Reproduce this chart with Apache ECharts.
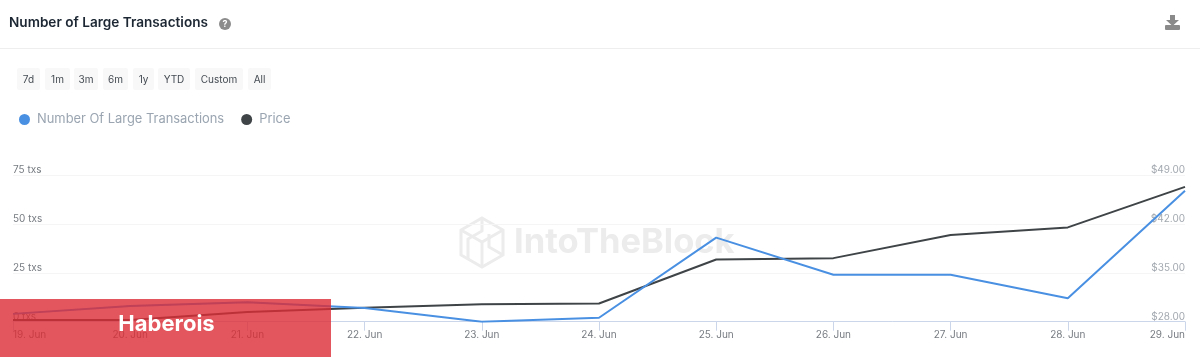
<!DOCTYPE html>
<html>
<head>
<meta charset="utf-8">
<style>
  html, body { margin: 0; padding: 0; background: #fff; }
  #main { width: 1200px; height: 358px; }
</style>
<script src="https://cdn.jsdelivr.net/npm/echarts@6/dist/echarts.min.js"></script>
</head>
<body>
<div id="main"></div>
<script>
const categories = ['19. Jun', '20. Jun', '21. Jun', '22. Jun', '23. Jun', '24. Jun', '25. Jun', '26. Jun', '27. Jun', '28. Jun', '29. Jun']
const largeTxs = [4, 8, 10, 7, 0, 2, 43, 24, 24, 12, 67]
const price = [28.25, 28.25, 29.4, 30.0, 30.5, 30.6, 36.9, 37.1, 40.4, 41.5, 47.3]
const rangeLabels = ['7d', '1m', '3m', '6m', '1y', 'YTD', 'Custom', 'All']

const fontName = 'Inter, "Noto Sans", sans-serif'
const myChart = echarts.init(document.getElementById('main'), null, { renderer: 'canvas' })

// range buttons, left edge and width in px
const buttonBoxes = [[17, 23], [45, 25], [74, 24], [103, 25], [133, 21], [158, 32], [195, 48], [248, 23]]
const buttons = []
rangeLabels.forEach(function (label, i) {
  const box = buttonBoxes[i]
  buttons.push({
    type: 'rect',
    shape: { x: box[0], y: 68, width: box[1], height: 22, r: 2 },
    style: { fill: '#f8f8f8' },
  })
  buttons.push({
    type: 'text',
    x: box[0] + box[1] / 2,
    y: 79.5,
    style: { text: label, fill: '#444b52', font: '10px ' + fontName, align: 'center', verticalAlign: 'middle' },
  })
})

const wmColor = '#ececec'
const watermark = [
  {
    type: 'polygon',
    shape: { points: [[482, 218], [503, 230], [503, 255], [482, 267], [461, 255], [461, 230]] },
    style: { fill: 'none', stroke: wmColor, lineWidth: 3 },
  },
  {
    type: 'polyline',
    shape: { points: [[461, 230], [482, 242], [503, 230]] },
    style: { fill: 'none', stroke: wmColor, lineWidth: 3 },
  },
  {
    type: 'polyline',
    shape: { points: [[482, 218], [482, 231], [468, 239], [468, 259]] },
    style: { fill: 'none', stroke: wmColor, lineWidth: 3 },
  },
  {
    type: 'polyline',
    shape: { points: [[482, 242], [482, 267]] },
    style: { fill: 'none', stroke: wmColor, lineWidth: 3 },
  },
  {
    type: 'polyline',
    shape: { points: [[503, 255], [489, 247], [489, 234]] },
    style: { fill: 'none', stroke: wmColor, lineWidth: 3 },
  },
  {
    type: 'text',
    x: 514,
    y: 243,
    style: { text: 'IntoTheBlock', fill: wmColor, font: 'bold 34.5px ' + fontName, verticalAlign: 'middle' },
  },
]

const option = {
  animation: false,
  textStyle: { fontFamily: fontName },
  title: {
    text: 'Number of Large Transactions',
    left: 9,
    top: 16,
    padding: 0,
    textStyle: { fontSize: 13.6, fontWeight: 600, color: '#1c2733', fontFamily: fontName },
  },
  legend: {
    data: ['Number Of Large Transactions', 'Price'],
    left: 19,
    top: 113,
    padding: 0,
    icon: 'circle',
    itemWidth: 11,
    itemHeight: 11,
    itemGap: 17,
    textStyle: { fontSize: 12.9, color: '#9aa5b1', fontFamily: fontName, padding: [0, 0, 0, 2] },
  },
  grid: { left: 13, right: 15, top: 175, height: 146.7, containLabel: false },
  xAxis: {
    type: 'category',
    data: categories,
    boundaryGap: false,
    axisLine: { lineStyle: { color: '#ccd6eb', width: 1 } },
    axisTick: { show: true, length: 9, lineStyle: { color: '#ccd6eb' } },
    axisLabel: {
      color: '#777c82',
      fontSize: 10,
      margin: 8,
      interval: 0,
      alignMinLabel: 'left',
      alignMaxLabel: 'right',
      showMinLabel: true,
      showMaxLabel: true,
      fontFamily: fontName,
    },
    splitLine: { show: false },
  },
  yAxis: [
    {
      type: 'value',
      min: 0,
      max: 75,
      interval: 25,
      axisLine: { show: false },
      axisTick: { show: false },
      axisLabel: {
        inside: true,
        margin: 0,
        color: '#777c82',
        fontSize: 10,
        verticalAlign: 'bottom',
        fontFamily: fontName,
        formatter: '{value} txs',
      },
      splitLine: { lineStyle: { color: '#f5f5f5', width: 1 } },
    },
    {
      type: 'value',
      min: 28,
      max: 49,
      interval: 7,
      position: 'right',
      axisLine: { show: false },
      axisTick: { show: false },
      axisLabel: {
        inside: true,
        margin: 0,
        color: '#a3a9b0',
        fontSize: 10,
        verticalAlign: 'bottom',
        fontFamily: fontName,
        formatter: function (v) { return '$' + v.toFixed(2) },
      },
      splitLine: { show: false },
    },
  ],
  series: [
    {
      name: 'Price',
      type: 'line',
      yAxisIndex: 1,
      data: price,
      color: '#3f4447',
      symbol: 'none',
      lineStyle: { width: 2 },
      z: 3,
    },
    {
      name: 'Number Of Large Transactions',
      type: 'line',
      yAxisIndex: 0,
      data: largeTxs,
      color: '#4a90e2',
      symbol: 'none',
      lineStyle: { width: 2 },
      z: 4,
    },
  ],
  graphic: {
    elements: [
      {
        type: 'line',
        shape: { x1: 0, y1: 48.5, x2: 1200, y2: 48.5 },
        style: { stroke: '#eeeeee', lineWidth: 1 },
      },
      // help icon
      { type: 'circle', shape: { cx: 225, cy: 24, r: 6 }, style: { fill: '#8c8c8c' } },
      {
        type: 'text',
        x: 225,
        y: 24.5,
        style: { text: '?', fill: '#ffffff', font: 'bold 9px ' + fontName, align: 'center', verticalAlign: 'middle' },
      },
      // download icon
      {
        type: 'polygon',
        shape: { points: [[1170, 15], [1175, 15], [1175, 20], [1179, 20], [1172.5, 26], [1166, 20], [1170, 20]] },
        style: { fill: '#8a8a8a' },
      },
      { type: 'rect', shape: { x: 1165, y: 25, width: 15, height: 5, r: 1 }, style: { fill: '#8a8a8a' } },
      ...buttons,
      ...watermark,
      // red banner on top of the chart
      {
        type: 'rect',
        shape: { x: 0, y: 299, width: 331, height: 58 },
        style: { fill: 'rgba(220,44,52,0.8)' },
        z: 100,
      },
      {
        type: 'text',
        x: 166.5,
        y: 324,
        style: { text: 'Haberois', fill: '#ffffff', font: 'bold 22px ' + fontName, align: 'center', verticalAlign: 'middle' },
        z: 101,
      },
    ],
  },
}

myChart.setOption(option)
</script>
</body>
</html>
